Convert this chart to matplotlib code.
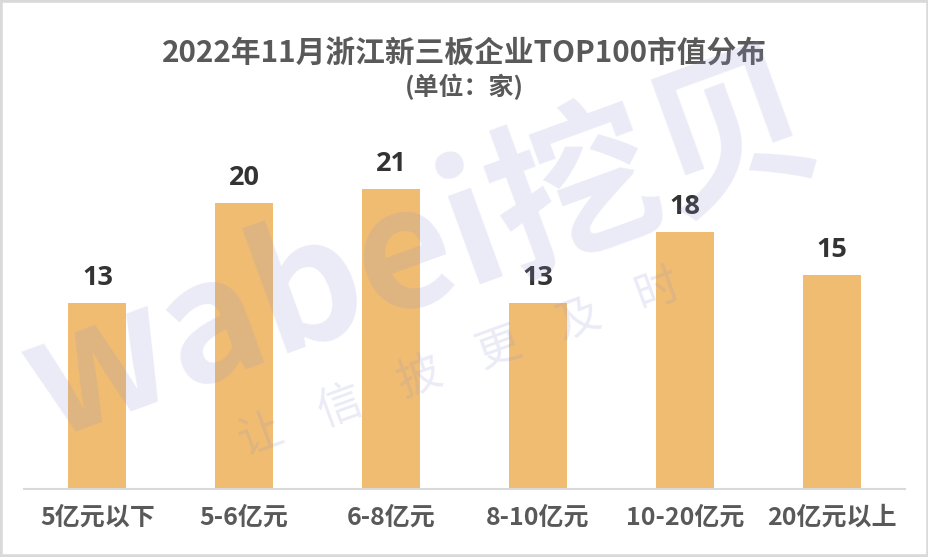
import matplotlib
matplotlib.use("Agg")
import matplotlib.pyplot as plt
from matplotlib.patches import Rectangle

plt.rcParams['font.family'] = ['Noto Sans CJK SC', 'DejaVu Sans']

# data
categories = ["5亿元以下", "5-6亿元", "6-8亿元", "8-10亿元", "10-20亿元", "20亿元以上"]
counts = [13, 20, 21, 13, 18, 15]
title = "2022年11月浙江新三板企业TOP100市值分布"
subtitle = "(单位：家)"

bar_color = "#F0BC72"
text_gray = "#595959"

fig = plt.figure(figsize=(9.29, 5.57), dpi=100)
ax = fig.add_axes([24/929, 1-489/557, 881/929, (489-100)/557])

x = range(len(categories))
ax.bar(x, counts, width=0.395, color=bar_color, zorder=2)
ax.set_xlim(-0.5, len(categories)-0.5)
ax.set_ylim(0, 389/14.3)

for i, v in enumerate(counts):
    ax.text(i, v + 1.25, str(v), ha="center", va="baseline", fontsize=19.5,
            fontweight="bold", color="#333333", family=["Open Sans", "DejaVu Sans"])

ax.set_xticks(list(x))
ax.set_xticklabels(categories, fontsize=18, fontweight="bold", color=text_gray)
ax.tick_params(axis="x", length=0, pad=12)
ax.set_yticks([])
for s in ["top", "right", "left"]:
    ax.spines[s].set_visible(False)
ax.spines["bottom"].set_color("#D9D9D9")
ax.spines["bottom"].set_linewidth(1.5)

fig.text(0.5, 1-53/557, title, ha="center", va="center", fontsize=21.4,
         fontweight="bold", color=text_gray)
fig.text(0.5, 1-87/557, subtitle, ha="center", va="center", fontsize=18,
         fontweight="bold", color=text_gray)

# watermark
wm = (0.55, 0.57, 0.80, 0.18)
fig.text(48/929, 1-440/557, "wabei挖贝", ha="left", va="baseline", fontsize=120,
         fontweight="bold", color=wm, rotation=20, rotation_mode="anchor", zorder=10)
fig.text(245/929, 1-455/557, "让    信    披    更    及    时", ha="left", va="baseline", fontsize=32,
         color=wm, rotation=20, rotation_mode="anchor", zorder=10)

# frame
fig.patches.append(Rectangle((0, 0), 1, 1, transform=fig.transFigure, fill=False,
                             edgecolor="#D9D9D9", linewidth=4))

fig.savefig("out.png", dpi=100)
